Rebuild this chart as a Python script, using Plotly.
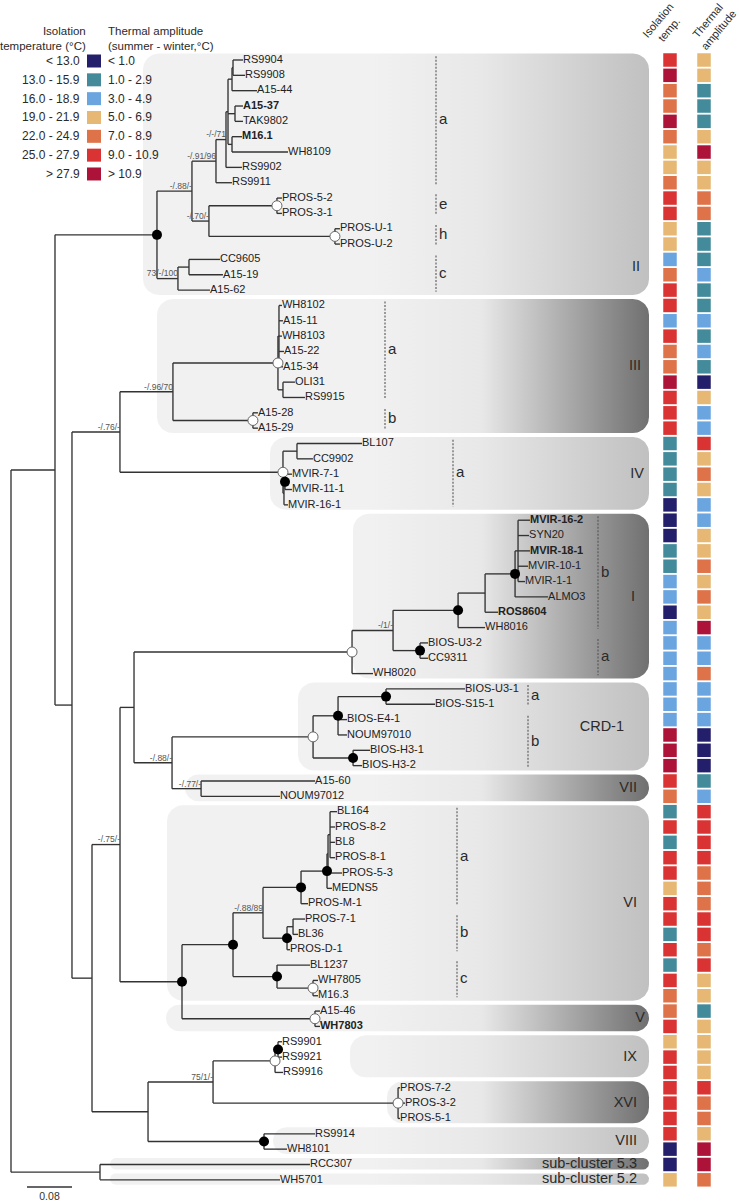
import numpy as np
import plotly.graph_objects as go

# ------------------------------------------------------------------ data
# Newick sub-trees (branch lengths in substitutions/site, "*" = black node,
# "o" = white node, quoted labels = support values)
NWK_II = ("(((((((RS9904:0.0178,RS9908:0.0213):0.0018,A15-44:0.0444):0.0071,"
          "(A15-37:0.0142,TAK9802:0.0142):0.0124,(M16.1:0.0178,WH8109:0.0996):0.0071):0.0036,"
          "RS9902:0.0284)'-/-/71':0.0178,RS9911:0.0284)'-/.91/96':0.0427,"
          "((PROS-5-2:0.0089,PROS-3-1:0.0089)o:0.1209,(PROS-U-1:0.0089,PROS-U-2:0.0089)o:0.224)"
          "'-/.70/-':0.0302)'-/.88/-':0.0622,((CC9605:0.0551,A15-19:0.0604):0.0196,"
          "A15-62:0.0569)'73/-/100':0.0373)*")
NWK_III = ("(((WH8102:0.0053,A15-11:0.0071,WH8103:0.0053,A15-22:0.0089,A15-34:0.0071):0.0018,"
           "(OLI31:0.0213,RS9915:0.0391):0.0089)o:0.1867,(A15-28:0.0089,A15-29:0.0089)o:0.1422)'-/.96/70'")
NWK_IV = ("((BL107:0.1156,CC9902:0.0284):0.0249,((MVIR-7-1:0.0124,MVIR-11-1:0.0124)*:0.0018,"
          "MVIR-16-1:0.0071):0.0018)o")
NWK_I = ("((((((MVIR-16-2:0.0213,SYN20:0.0196,MVIR-18-1:0.0213,MVIR-10-1:0.0178,MVIR-1-1:0.0124):0.0053,"
         "ALMO3:0.0587)*:0.0533,ROS8604:0.0231):0.048,WH8016:0.048)*:0.1156,"
         "(BIOS-U3-2:0.0142,CC9311:0.0142)*:0.048)'-/1/-':0.0729,WH8020:0.0373)o")
NWK_CRD1 = ("(((BIOS-U3-1:0.1404,BIOS-S15-1:0.0871)*:0.0853,BIOS-E4-1:0.016,NOUM97010:0.016)*:0.0444,"
            "(BIOS-H3-1:0.0302,BIOS-H3-2:0.016)*:0.0711)o")
NWK_VII = "(A15-60:0.2027,NOUM97012:0.1404)'-/.77/-'"
NWK_VI = ("((((((BL164:0.0124,PROS-8-2:0.0089,BL8:0.0089,PROS-8-1:0.0089):0.0036,PROS-5-3:0.0249):0.0018,"
          "MEDNS5:0.0089)*:0.0462,PROS-M-1:0.0124)*:0.0676,((PROS-7-1:0.0213,BL36:0.0089):0.0107,"
          "PROS-D-1:0.0053)*:0.0427)'-/.88/89':0.0533,(BL1237:0.0587,(WH7805:0.0089,M16.3:0.0089)o:0.064)*:0.0782)*")
NWK_V = "(A15-46:0.0089,WH7803:0.0089)o"
NWK_IX = "((RS9901:0.0071,RS9921:0.0071)*:0.0053,RS9916:0.0142)o"
NWK_XVI = "(PROS-7-2:0.0036,PROS-3-2:0.0124,PROS-5-1:0.0036)o"
NWK_VIII = "(RS9914:0.0907,WH8101:0.0409)*"
NWK_SUB5 = "(RCC307:0.3733,WH5701:0.32)"

BOLD_STRAINS = ["A15-37", "M16.1", "MVIR-16-2", "MVIR-18-1", "ROS8604", "WH7803"]

SCALE_BAR = 0.08

# temperature classes per strain, in tree order (0..6)
ISO_CLASS = [5, 6, 4, 4, 6, 4, 3, 3, 4, 5, 5, 3, 3, 2, 4, 5, 5, 2, 5, 4, 4, 6, 5, 5, 5,
             1, 1, 1, 1, 0, 0, 0, 1, 1, 2, 2, 0, 2, 2, 2, 2, 2, 2, 2, 6, 6, 6, 5, 4,
             1, 5, 1, 5, 5, 3, 5, 5, 1, 5, 1, 5, 4, 4, 5, 3, 5, 5, 5, 5, 5, 5, 0, 0, 3]
AMP_CLASS = [3, 3, 1, 1, 1, 3, 6, 3, 3, 4, 4, 1, 1, 1, 2, 1, 1, 2, 1, 2, 1, 0, 3, 2, 2,
             5, 3, 4, 3, 2, 2, 3, 3, 4, 3, 4, 3, 6, 2, 2, 4, 2, 2, 2, 0, 0, 0, 1, 2,
             5, 5, 5, 5, 4, 4, 4, 5, 5, 4, 5, 3, 3, 1, 3, 3, 3, 3, 5, 4, 4, 3, 6, 6, 4]
CLASS_COLORS = ["#231f6a", "#438b9b", "#6aa5e0", "#e6b873", "#de7248", "#d93433", "#ad1238"]
ISO_LABELS = ["< 13.0", "13.0 - 15.9", "16.0 - 18.9", "19.0 - 21.9", "22.0 - 24.9", "25.0 - 27.9", "> 27.9"]
AMP_LABELS = ["< 1.0", "1.0 - 2.9", "3.0 - 4.9", "5.0 - 6.9", "7.0 - 8.9", "9.0 - 10.9", "> 10.9"]
COLUMN_NAMES = ["Isolation<br>temp.", "Thermal<br>amplitude"]

# clusters: name, first strain, last strain
CLUSTERS = [("II", "RS9904", "A15-62"), ("III", "WH8102", "A15-29"), ("IV", "BL107", "MVIR-16-1"),
            ("I", "MVIR-16-2", "WH8020"), ("CRD-1", "BIOS-U3-1", "BIOS-H3-2"),
            ("VII", "A15-60", "NOUM97012"), ("VI", "BL164", "M16.3"), ("V", "A15-46", "WH7803"),
            ("IX", "RS9901", "RS9916"), ("XVI", "PROS-7-2", "PROS-5-1"), ("VIII", "RS9914", "WH8101"),
            ("sub-cluster 5.3", "RCC307", "RCC307"), ("sub-cluster 5.2", "WH5701", "WH5701")]
# sub-clades: letter, first strain, last strain
SUBCLADES = [("a", "RS9904", "RS9911"), ("e", "PROS-5-2", "PROS-3-1"), ("h", "PROS-U-1", "PROS-U-2"),
             ("c", "CC9605", "A15-62"), ("a", "WH8102", "RS9915"), ("b", "A15-28", "A15-29"),
             ("a", "BL107", "MVIR-16-1"), ("b", "MVIR-16-2", "WH8016"), ("a", "BIOS-U3-2", "WH8020"),
             ("a", "BIOS-U3-1", "BIOS-S15-1"), ("b", "BIOS-E4-1", "BIOS-H3-2"),
             ("a", "BL164", "PROS-M-1"), ("b", "PROS-7-1", "PROS-D-1"), ("c", "BL1237", "M16.3")]

# ------------------------------------------------------------------ styling
W, H = 739, 1204
PX_PER_UNIT = 562.5      # 0.08 subst./site = 45 px
ROOT_PX = 11
ROW0_PX, ROW_PX = 60, 15.34
FONT = "Liberation Sans, Arial, sans-serif"
BOX_LEFT = {"II": 143, "III": 157, "IV": 270, "I": 353, "CRD-1": 298, "VII": 185, "VI": 167,
            "V": 166, "IX": 350, "XVI": 387, "VIII": 273, "sub-cluster 5.3": 110, "sub-cluster 5.2": 110}
BOX_DARK = {"III", "I", "VII", "V", "XVI", "sub-cluster 5.3"}
BOX_RIGHT = 649
LABEL_RIGHT = {"II": 640, "III": 641, "IV": 644, "I": 635, "CRD-1": 624, "V": 645}
LABEL_RIGHT_DEFAULT = 637
LABEL_ROW_SHIFT = {"II": 6.0}
SUB_X = [436, 436, 436, 436, 385, 385, 453, 598, 598, 528, 528, 457, 457, 457]

# ------------------------------------------------------------------ newick assembly
C_ = "(" + NWK_III + ":0.0942," + NWK_IV + ":0.2898)'-/.76/-'"
N88_ = "(" + NWK_CRD1 + ":0.2507," + NWK_VII + ":0.0516)'-/.88/-'"
G_ = "(" + NWK_I + ":0.3876," + N88_ + ":0.0676)"
H_ = "(" + NWK_VI + ":0.0907," + NWK_V + ":0.2364)*"
E_ = "(" + G_ + ":0.0249," + H_ + ":0.1102)'-/.75/-'"
N75_ = "(" + NWK_IX + ":0.1102," + NWK_XVI + ":0.3289)'75/1/-'"
F_ = "(" + N75_ + ":0.1156," + NWK_VIII + ":0.2062)"
D_ = "(" + E_ + ":0.0498," + F_ + ":0.0996)"
B_ = "(" + C_ + ":0.0853," + D_ + ":0.0356)"
A_ = "(" + NWK_II + ":0.1813," + B_ + ":0.0302)"
tree_str = "(" + A_ + ":0.0782," + NWK_SUB5 + ":0.1582);"


def parse(s):
    pos = 0

    def node():
        nonlocal pos
        kids = []
        if s[pos] == "(":
            pos += 1
            kids.append(node())
            while s[pos] == ",":
                pos += 1
                kids.append(node())
            assert s[pos] == ")"
            pos += 1
        label = ""
        if s[pos] == "'":
            end = s.index("'", pos + 1)
            label = s[pos + 1:end]
            pos = end + 1
        else:
            while s[pos] not in ":,);":
                label += s[pos]
                pos += 1
        length = 0.0
        if s[pos] == ":":
            pos += 1
            st = pos
            while s[pos] not in ",);":
                pos += 1
            length = float(s[st:pos])
        return {"label": label, "len": length, "kids": kids}

    tree = node()
    assert s[pos] == ";"
    return tree


root = parse(tree_str)
leaves = []


def layout(n, depth):
    n["x"] = depth + n["len"]
    if not n["kids"]:
        n["y"] = len(leaves)
        leaves.append(n)
    else:
        for k in n["kids"]:
            layout(k, n["x"])
        n["y"] = (n["kids"][0]["y"] + n["kids"][-1]["y"]) / 2


root["len"] = 0.0
layout(root, 0.0)
row_of = {l["label"]: l["y"] for l in leaves}

seg_x, seg_y = [], []
black, white, supports = [], [], []


def collect(n):
    if n["kids"]:
        seg_x.extend([n["x"], n["x"], None])
        seg_y.extend([n["kids"][0]["y"], n["kids"][-1]["y"], None])
        for k in n["kids"]:
            seg_x.extend([n["x"], k["x"], None])
            seg_y.extend([k["y"], k["y"], None])
            collect(k)
        if n["label"] == "*":
            black.append(n)
        elif n["label"] == "o":
            white.append(n)
        elif n["label"]:
            supports.append(n)


collect(root)

fig = go.Figure()


# ---------------- cluster boxes (pixel x axis)
def rrect(x0, x1, y0, y1, r):
    r = min(r, (y1 - y0) * ROW_PX / 2)
    ry = r / ROW_PX
    t = np.linspace(0, np.pi / 2, 12)
    xs, ys = [], []
    for cx, cy, a0 in [(x0 + r, y0 + ry, np.pi), (x1 - r, y0 + ry, 1.5 * np.pi),
                       (x1 - r, y1 - ry, 0.0), (x0 + r, y1 - ry, 0.5 * np.pi)]:
        xs += list(cx + r * np.cos(a0 + t))
        ys += list(cy + ry * np.sin(a0 + t))
    return xs + [xs[0]], ys + [ys[0]]


lab_x, lab_y, lab_t = [], [], []
for name, first, last in CLUSTERS:
    r0, r1 = row_of[first], row_of[last]
    xs, ys = rrect(BOX_LEFT[name], BOX_RIGHT, r0 - 0.42, r1 + 0.32, 16)
    dark = "#707070" if name in BOX_DARK else "#c0c0c0"
    fig.add_trace(go.Scatter(
        x=xs, y=ys, mode="lines", line=dict(width=0), fill="toself", hoverinfo="skip",
        fillgradient=dict(type="horizontal", start=370, stop=BOX_RIGHT,
                          colorscale=[[0, "#f1f1f1"], [0.4, "#e8e8e8"], [1, dark]]),
        xaxis="x", yaxis="y", showlegend=False))
    lab_x.append(LABEL_RIGHT.get(name, LABEL_RIGHT_DEFAULT))
    lab_y.append((r0 + r1) / 2 + LABEL_ROW_SHIFT.get(name, 0))
    lab_t.append(name)

fig.add_trace(go.Scatter(x=lab_x, y=lab_y, text=lab_t, mode="text", textposition="middle left",
                         textfont=dict(family=FONT, size=14.5, color="#2a2a2a"), hoverinfo="skip",
                         xaxis="x", yaxis="y", showlegend=False))

# sub-clade dashed bars
dx, dy, tx, ty, tt = [], [], [], [], []
for (letter, first, last), xp in zip(SUBCLADES, SUB_X):
    r0, r1 = row_of[first], row_of[last]
    dx += [xp, xp, None]
    dy += [r0 - 0.25, r1 + 0.1, None]
    tx.append(xp + 3)
    ty.append((r0 + r1) / 2 - 0.05)
    tt.append(letter)
fig.add_trace(go.Scatter(x=dx, y=dy, mode="lines", line=dict(color="#555", width=1.1, dash="2px,1.5px"),
                         hoverinfo="skip", xaxis="x", yaxis="y", showlegend=False))
fig.add_trace(go.Scatter(x=tx, y=ty, text=tt, mode="text", textposition="middle right",
                         textfont=dict(family=FONT, size=15, color="#2a2a2a"), hoverinfo="skip",
                         xaxis="x", yaxis="y", showlegend=False))

# ---------------- tree (substitution-unit axis x2)
fig.add_trace(go.Scatter(x=seg_x, y=seg_y, mode="lines", line=dict(color="#333333", width=1.35),
                         hoverinfo="skip", xaxis="x2", yaxis="y", showlegend=False))
fig.add_trace(go.Scatter(x=[n["x"] for n in white], y=[n["y"] for n in white], mode="markers",
                         marker=dict(size=10, color="white", line=dict(color="#666", width=1)),
                         hoverinfo="skip", xaxis="x2", yaxis="y", showlegend=False))
fig.add_trace(go.Scatter(x=[n["x"] for n in black], y=[n["y"] for n in black], mode="markers",
                         marker=dict(size=10, color="black", line=dict(width=0)),
                         hoverinfo="skip", xaxis="x2", yaxis="y", showlegend=False))
fig.add_trace(go.Scatter(x=[n["x"] for n in supports], y=[n["y"] for n in supports],
                         text=[n["label"] for n in supports], mode="text", textposition="top left",
                         textfont=dict(family=FONT, size=8.5, color="#555"), hoverinfo="skip",
                         xaxis="x2", yaxis="y", showlegend=False))
fig.add_trace(go.Scatter(x=[l["x"] for l in leaves], y=[l["y"] for l in leaves],
                         text=[("<b>%s</b>" % l["label"]) if l["label"] in BOLD_STRAINS else l["label"]
                               for l in leaves],
                         mode="text", textposition="middle right",
                         textfont=dict(family=FONT, size=11, color="#222"), hoverinfo="skip",
                         xaxis="x2", yaxis="y", showlegend=False))

# scale bar
sb_x0 = (27 - ROOT_PX) / PX_PER_UNIT
sb_row = (1187 - ROW0_PX) / ROW_PX
fig.add_trace(go.Scatter(x=[sb_x0, sb_x0 + SCALE_BAR], y=[sb_row, sb_row], mode="lines",
                         line=dict(color="#333", width=1.3), hoverinfo="skip",
                         xaxis="x2", yaxis="y", showlegend=False))
fig.add_trace(go.Scatter(x=[sb_x0 + SCALE_BAR / 2], y=[sb_row + 0.7], text=["%.2f" % SCALE_BAR],
                         mode="text", textposition="middle center",
                         textfont=dict(family=FONT, size=10.5, color="#333"), hoverinfo="skip",
                         xaxis="x2", yaxis="y", showlegend=False))

# ---------------- temperature squares (column axis x3)
n = len(leaves)
fig.add_trace(go.Scatter(
    x=[0] * n + [1] * n, y=[l["y"] for l in leaves] * 2, mode="markers",
    marker=dict(symbol="square", size=13.5, line=dict(width=0),
                color=[CLASS_COLORS[c] for c in ISO_CLASS] + [CLASS_COLORS[c] for c in AMP_CLASS]),
    hoverinfo="skip", xaxis="x3", yaxis="y", showlegend=False))


# ---------------- legend (paper coordinates)
def px(x):
    return x / W


def py(y):
    return 1 - y / H


def ann(text, x, y, xanchor, align="left", size=12, angle=0):
    return dict(text=text, x=px(x), y=py(y), xref="paper", yref="paper", xanchor=xanchor,
                yanchor="middle", align=align, showarrow=False, textangle=angle,
                font=dict(family=FONT, size=size, color="#2a2a2a"))


annotations = [
    ann("Isolation<br>temperature (°C)", 88, 38, "right", "right", size=11.5),
    ann("Thermal amplitude<br>(summer - winter,°C)", 106, 38, "left", "left", size=11.5),
]
shapes = []
for k, (il, al) in enumerate(zip(ISO_LABELS, AMP_LABELS)):
    yc = 61 + 18.83 * k
    annotations.append(ann(il, 82, yc, "right"))
    annotations.append(ann(al, 106, yc, "left"))
    shapes.append(dict(type="rect", xref="paper", yref="paper", x0=px(87), x1=px(101),
                       y0=py(yc + 6.5), y1=py(yc - 6.5), fillcolor=CLASS_COLORS[k], line=dict(width=0)))

for name, xc in zip(COLUMN_NAMES, [663, 713]):
    annotations.append(ann(name, xc, 25, "center", "center", size=11, angle=-50))

fig.update_layout(
    width=W, height=H, margin=dict(l=0, r=0, t=0, b=0),
    paper_bgcolor="white", plot_bgcolor="white",
    xaxis=dict(range=[0, W], visible=False, fixedrange=True, domain=[0, 1]),
    xaxis2=dict(range=[-ROOT_PX / PX_PER_UNIT, (W - ROOT_PX) / PX_PER_UNIT], visible=False,
                overlaying="x", fixedrange=True),
    xaxis3=dict(range=[-0.5, 1.5], visible=False, domain=[653 / W, 721 / W], anchor="y", fixedrange=True),
    yaxis=dict(range=[(H - ROW0_PX) / ROW_PX, -ROW0_PX / ROW_PX], visible=False, fixedrange=True),
    annotations=annotations, shapes=shapes, showlegend=False,
)

fig.write_html("out.html", config={"displayModeBar": False, "staticPlot": True},
               post_script="document.body.style.margin='0';document.body.style.overflow='hidden';")
